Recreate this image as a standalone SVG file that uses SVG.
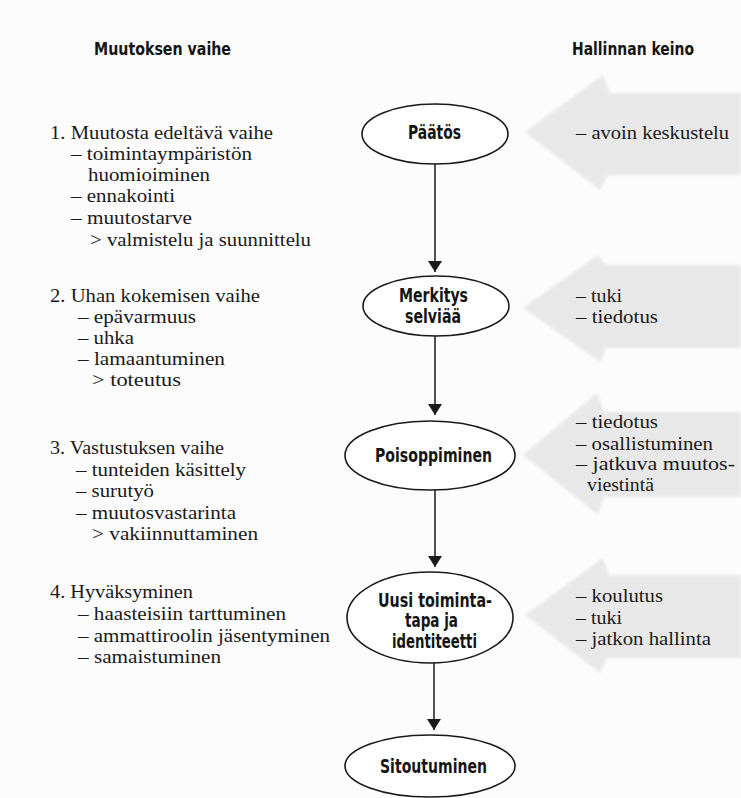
<svg xmlns="http://www.w3.org/2000/svg" width="741" height="798" viewBox="0 0 741 798">
<style>
.bg{fill:#fcfcfc}
.ga{fill:#e8e8e8;filter:url(#soft)}
.node ellipse{fill:#ffffff;stroke:#1a1a1a;stroke-width:1.6}
.nt{font-weight:bold;font-size:19px;fill:#151515}
.hd{font-weight:bold;font-size:18px;fill:#151515}
.st{font-size:18px;fill:#1a1a1a}
.conn line{stroke:#1a1a1a;stroke-width:1.5}
</style>
<defs>
<filter id="soft" x="-5%" y="-5%" width="110%" height="110%"><feGaussianBlur stdDeviation="1.6"/></filter>
<marker id="ah" viewBox="0 0 11 14" markerWidth="11" markerHeight="14" refX="11" refY="7" orient="auto" markerUnits="userSpaceOnUse"><path d="M0,0 L11,7 L0,14 z" fill="#1a1a1a"/></marker>
</defs>
<rect class="bg" x="0" y="0" width="741" height="798"/>

<g id="grey-arrows">
<polygon class="ga" points="525,132 603,75 610,93 741,93 741,175 608,175 600,190"/>
<polygon class="ga" points="523,308 598,255 606,265 741,265 741,348 606,348 600,362"/>
<polygon class="ga" points="523,455 597,393 604,412 741,412 741,497 604,497 598,515"/>
<polygon class="ga" points="525,615 603,558 609,575 741,575 741,658 607,658 600,673"/>
</g>

<g id="headers" font-family="'Liberation Sans Narrow', 'DejaVu Sans Condensed', 'Liberation Sans', Arial, sans-serif">
<text class="hd" x="94" y="55" textLength="137" lengthAdjust="spacingAndGlyphs">Muutoksen vaihe</text>
<text class="hd" x="572" y="55" textLength="122" lengthAdjust="spacingAndGlyphs">Hallinnan keino</text>
</g>

<g id="connectors" class="conn">
<line x1="435" y1="164" x2="435" y2="272" marker-end="url(#ah)"/>
<line x1="435" y1="336" x2="435" y2="415" marker-end="url(#ah)"/>
<line x1="435" y1="490" x2="435" y2="567" marker-end="url(#ah)"/>
<line x1="434" y1="663" x2="434" y2="730" marker-end="url(#ah)"/>
</g>

<g id="node-paatos" class="node" font-family="'Liberation Sans Narrow', 'DejaVu Sans Condensed', 'Liberation Sans', Arial, sans-serif">
<ellipse cx="435" cy="134" rx="73" ry="30"/>
<text class="nt" x="408" y="139" textLength="53" lengthAdjust="spacingAndGlyphs">Päätös</text>
</g>
<g id="node-merkitys" class="node" font-family="'Liberation Sans Narrow', 'DejaVu Sans Condensed', 'Liberation Sans', Arial, sans-serif">
<ellipse cx="436" cy="306" rx="73" ry="30"/>
<text class="nt" x="399" y="302" textLength="69" lengthAdjust="spacingAndGlyphs">Merkitys</text>
<text class="nt" x="405" y="323" textLength="56" lengthAdjust="spacingAndGlyphs">selviää</text>
</g>
<g id="node-poisoppiminen" class="node" font-family="'Liberation Sans Narrow', 'DejaVu Sans Condensed', 'Liberation Sans', Arial, sans-serif">
<ellipse cx="430" cy="455.5" rx="85" ry="34.5"/>
<text class="nt" x="375" y="462" textLength="117" lengthAdjust="spacingAndGlyphs">Poisoppiminen</text>
</g>
<g id="node-uusi" class="node" font-family="'Liberation Sans Narrow', 'DejaVu Sans Condensed', 'Liberation Sans', Arial, sans-serif">
<ellipse cx="430" cy="617.5" rx="83" ry="45.5"/>
<text class="nt" x="378" y="607" textLength="114" lengthAdjust="spacingAndGlyphs">Uusi toiminta-</text>
<text class="nt" x="405" y="627" textLength="53" lengthAdjust="spacingAndGlyphs">tapa ja</text>
<text class="nt" x="392" y="648" textLength="85" lengthAdjust="spacingAndGlyphs">identiteetti</text>
</g>
<g id="node-sitoutuminen" class="node" font-family="'Liberation Sans Narrow', 'DejaVu Sans Condensed', 'Liberation Sans', Arial, sans-serif">
<ellipse cx="430" cy="766" rx="85" ry="31"/>
<text class="nt" x="380" y="773" textLength="107" lengthAdjust="spacingAndGlyphs">Sitoutuminen</text>
</g>

<g id="phases" font-family="'Liberation Serif', 'DejaVu Serif', 'Times New Roman', serif">
<text class="st" x="50" y="139" textLength="223" lengthAdjust="spacingAndGlyphs">1. Muutosta edeltävä vaihe</text>
<text class="st" x="71" y="160" textLength="181" lengthAdjust="spacingAndGlyphs">– toimintaympäristön</text>
<text class="st" x="88" y="181" textLength="122" lengthAdjust="spacingAndGlyphs">huomioiminen</text>
<text class="st" x="71" y="202" textLength="104" lengthAdjust="spacingAndGlyphs">– ennakointi</text>
<text class="st" x="71" y="224" textLength="121" lengthAdjust="spacingAndGlyphs">– muutostarve</text>
<text class="st" x="90" y="246" textLength="221" lengthAdjust="spacingAndGlyphs">&gt; valmistelu ja suunnittelu</text>

<text class="st" x="50" y="302" textLength="210" lengthAdjust="spacingAndGlyphs">2. Uhan kokemisen vaihe</text>
<text class="st" x="78" y="323" textLength="118" lengthAdjust="spacingAndGlyphs">– epävarmuus</text>
<text class="st" x="78" y="344" textLength="56" lengthAdjust="spacingAndGlyphs">– uhka</text>
<text class="st" x="78" y="365" textLength="147" lengthAdjust="spacingAndGlyphs">– lamaantuminen</text>
<text class="st" x="92" y="386" textLength="89" lengthAdjust="spacingAndGlyphs">&gt; toteutus</text>

<text class="st" x="50" y="454" textLength="174" lengthAdjust="spacingAndGlyphs">3. Vastustuksen vaihe</text>
<text class="st" x="76" y="475.5" textLength="170" lengthAdjust="spacingAndGlyphs">– tunteiden käsittely</text>
<text class="st" x="76" y="497" textLength="78" lengthAdjust="spacingAndGlyphs">– surutyö</text>
<text class="st" x="76" y="518.5" textLength="160" lengthAdjust="spacingAndGlyphs">– muutosvastarinta</text>
<text class="st" x="92" y="540" textLength="166" lengthAdjust="spacingAndGlyphs">&gt; vakiinnuttaminen</text>

<text class="st" x="50" y="598" textLength="143" lengthAdjust="spacingAndGlyphs">4. Hyväksyminen</text>
<text class="st" x="78" y="620" textLength="208" lengthAdjust="spacingAndGlyphs">– haasteisiin tarttuminen</text>
<text class="st" x="78" y="642" textLength="252" lengthAdjust="spacingAndGlyphs">– ammattiroolin jäsentyminen</text>
<text class="st" x="78" y="663" textLength="143" lengthAdjust="spacingAndGlyphs">– samaistuminen</text>
</g>

<g id="means" font-family="'Liberation Serif', 'DejaVu Serif', 'Times New Roman', serif">
<text class="st" x="576" y="139" textLength="153" lengthAdjust="spacingAndGlyphs">– avoin keskustelu</text>
<text class="st" x="576" y="302" textLength="46" lengthAdjust="spacingAndGlyphs">– tuki</text>
<text class="st" x="576" y="323" textLength="82" lengthAdjust="spacingAndGlyphs">– tiedotus</text>
<text class="st" x="576" y="428" textLength="82" lengthAdjust="spacingAndGlyphs">– tiedotus</text>
<text class="st" x="576" y="449.5" textLength="137" lengthAdjust="spacingAndGlyphs">– osallistuminen</text>
<text class="st" x="576" y="470" textLength="159" lengthAdjust="spacingAndGlyphs">– jatkuva muutos-</text>
<text class="st" x="587" y="491" textLength="67" lengthAdjust="spacingAndGlyphs">viestintä</text>
<text class="st" x="576" y="602" textLength="87" lengthAdjust="spacingAndGlyphs">– koulutus</text>
<text class="st" x="576" y="623.5" textLength="46" lengthAdjust="spacingAndGlyphs">– tuki</text>
<text class="st" x="576" y="645" textLength="135" lengthAdjust="spacingAndGlyphs">– jatkon hallinta</text>
</g>
</svg>
